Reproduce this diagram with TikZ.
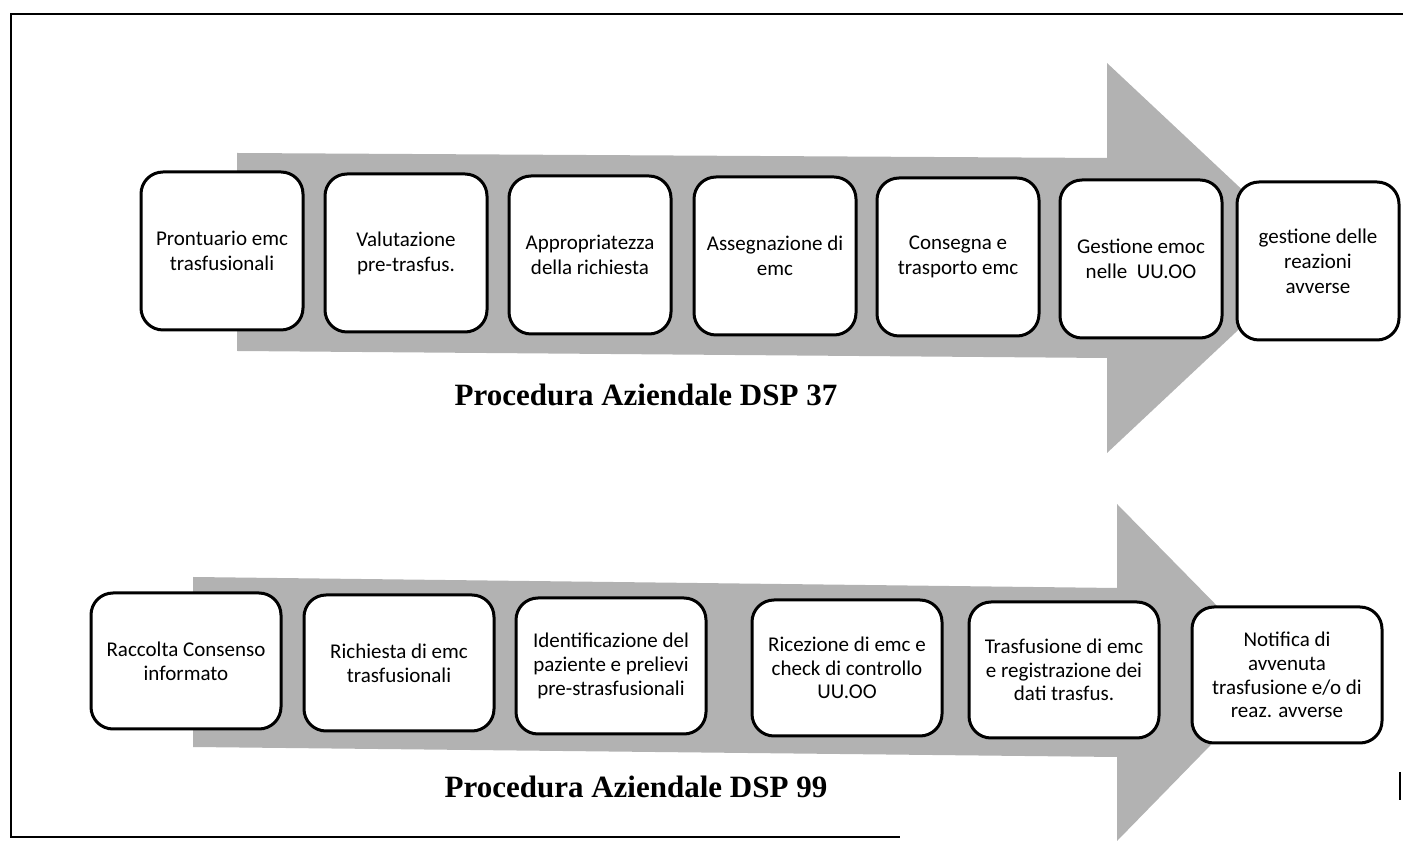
\documentclass[tikz,border=0pt]{standalone}
\usepackage{fontspec}
\setmainfont{Liberation Serif}
\newfontfamily\boxfont{Carlito}

\begin{document}
\begin{tikzpicture}[x=0.5pt,y=-0.5pt,
	stepbox/.style={draw,line width=1.5pt,rounded corners=11pt,fill=white,
		minimum width=81pt,minimum height=79pt,inner sep=0pt,align=center,
		font=\boxfont\fontsize{10.5}{12.5}\selectfont},
	widebox/.style={stepbox,minimum width=95pt,minimum height=68pt,
		font=\boxfont\fontsize{10.5}{11.8}\selectfont},
	title/.style={font=\fontsize{15.5}{18}\selectfont\bfseries},
	flow/.style={fill=black!30}]
	\useasboundingbox (0,0) rectangle (1403,854);
	% page frame
	\draw[line width=0.8pt] (1403,14) -- (11,14) -- (11,837) -- (900,837);
	\draw[line width=0.8pt] (1400,772) -- (1400,800);

	% DSP 37
	\fill[flow] (237,153) -- (1107,158) -- (1107,63) -- (1315,258)
		-- (1107,453) -- (1107,358) -- (237,351) -- cycle;
	\node[stepbox] (a1) at (222,251) {Prontuario emc\\trasfusionali};
	\node[stepbox] (a2) at (406,253) {Valutazione\\pre-trasfus.};
	\node[stepbox] (a3) at (590,255) {Appropriatezza\\della richiesta};
	\node[stepbox] (a4) at (775,256) {Assegnazione di\\emc};
	\node[stepbox] (a5) at (958,257) {Consegna e\\trasporto emc};
	\node[stepbox] (a6) at (1141,259) {Gestione emoc\\nelle\ \ UU.OO};
	\node[stepbox] (a7) at (1318,261) {gestione delle\\reazioni\\avverse};
	\node[title] (t37) at (646,395) {Procedura Aziendale DSP 37};

	% DSP 99
	\fill[flow] (193,577) -- (1117,588) -- (1117,504) -- (1282,672)
		-- (1117,841) -- (1117,757) -- (193,747) -- cycle;
	\node[widebox] (b1) at (186,661) {Raccolta Consenso\\informato};
	\node[widebox] (b2) at (399,663) {Richiesta di emc\\trasfusionali};
	\node[widebox] (b3) at (611,666) {Identificazione del\\paziente e prelievi\\pre-strasfusionali};
	\node[widebox] (b4) at (847,668) {Ricezione di emc e\\check di controllo\\UU.OO};
	\node[widebox] (b5) at (1064,670) {Trasfusione di emc\\e registrazione dei\\dati trasfus.};
	\node[widebox] (b6) at (1287,675) {Notifica di\\avvenuta\\trasfusione e/o di\\reaz. avverse};
	\node[title] (t99) at (636,787) {Procedura Aziendale DSP 99};
\end{tikzpicture}
\end{document}
